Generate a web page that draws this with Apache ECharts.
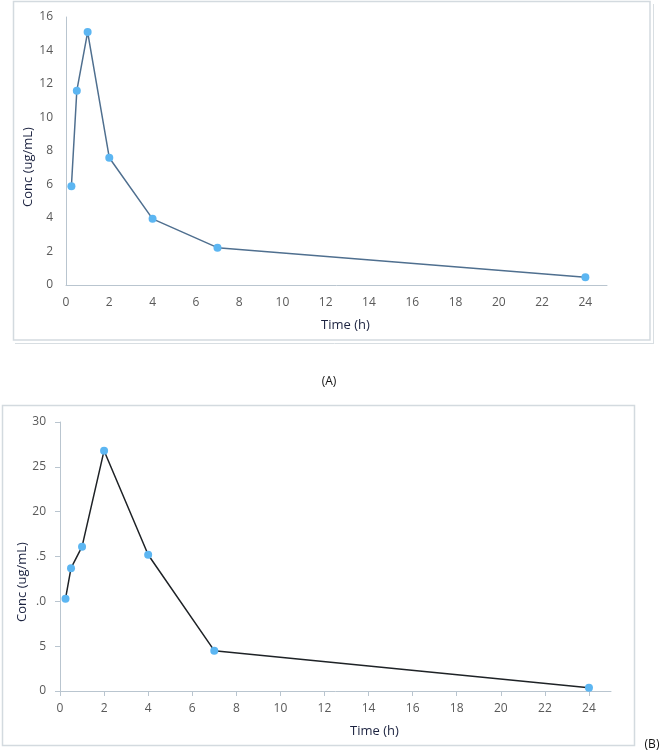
<!DOCTYPE html>
<html><head><meta charset="utf-8">
<script src="https://cdn.jsdelivr.net/npm/echarts@6/dist/echarts.min.js"></script>
<style>html,body{margin:0;padding:0;background:#fff}#c{width:661px;height:753px}</style>
</head><body><div id="c"></div>
<script>
// Data
const timesA = [0.25, 0.5, 1, 2, 4, 7, 24];
const concA  = [5.9, 11.6, 15.1, 7.6, 3.95, 2.23, 0.47];
const timesB = [0.25, 0.5, 1, 2, 4, 7, 24];
const concB  = [10.3, 13.7, 16.1, 26.8, 15.2, 4.5, 0.35];
const xTicks = [0, 2, 4, 6, 8, 10, 12, 14, 16, 18, 20, 22, 24];
const yTicksA = [0, 2, 4, 6, 8, 10, 12, 14, 16];
const yTicksB = [0, 5, 10, 15, 20, 25, 30];
const yLabelsB = ['0', '5', '.0', '.5', '20', '25', '30'];

const font = 'Open Sans';
const axisCol = '#b9c5cf';
const labCol = '#595959';
const titleCol = '#1c2340';

const chart = echarts.init(document.getElementById('c'), null, {renderer: 'canvas'});
chart.setOption({
  animation: false,
  grid: [
    {left: 66, top: 17, width: 541, height: 268},
    {left: 60, top: 422, width: 551, height: 269}
  ],
  xAxis: [
    {gridIndex: 0, type: 'value', min: 0, max: 25,
     axisLine: {lineStyle: {color: axisCol, width: 1}},
     axisTick: {show: false},
     splitLine: {show: false},
     axisLabel: {customValues: xTicks, color: labCol, fontFamily: font, fontSize: 12, margin: 12}},
    {gridIndex: 1, type: 'value', min: 0, max: 25,
     axisLine: {lineStyle: {color: axisCol, width: 1}},
     axisTick: {show: true, customValues: xTicks, length: 5, lineStyle: {color: axisCol}},
     splitLine: {show: false},
     axisLabel: {customValues: xTicks, color: labCol, fontFamily: font, fontSize: 12, margin: 12}}
  ],
  yAxis: [
    {gridIndex: 0, type: 'value', min: 0, max: 16, interval: 2,
     axisLine: {show: true, lineStyle: {color: axisCol, width: 1}},
     axisTick: {show: false},
     splitLine: {show: false},
     axisLabel: {color: labCol, fontFamily: font, fontSize: 12, margin: 13}},
    {gridIndex: 1, type: 'value', min: 0, max: 30, interval: 5,
     axisLine: {show: true, lineStyle: {color: axisCol, width: 1}},
     axisTick: {show: true, length: 5, lineStyle: {color: axisCol}},
     splitLine: {show: false},
     axisLabel: {color: labCol, fontFamily: font, fontSize: 12, margin: 14,
       formatter: v => { const i = yTicksB.indexOf(v); return i >= 0 ? yLabelsB[i] : ''; }}}
  ],
  series: [
    {type: 'line', xAxisIndex: 0, yAxisIndex: 0,
     data: timesA.map((t, i) => [t, concA[i]]),
     lineStyle: {color: '#4f6f8f', width: 1.5},
     symbol: 'circle', symbolSize: 8,
     itemStyle: {color: '#5cb6f2'}},
    {type: 'line', xAxisIndex: 1, yAxisIndex: 1,
     data: timesB.map((t, i) => [t, concB[i]]),
     lineStyle: {color: '#1e2226', width: 1.5},
     symbol: 'circle', symbolSize: 8,
     itemStyle: {color: '#5cb6f2'}}
  ],
  graphic: [
    {type: 'rect', shape: {x: 13.5, y: 1.5, width: 636.5, height: 338.5}, style: {fill: 'none', stroke: '#d3dadf', lineWidth: 1.5}, z: -1},
    {type: 'line', shape: {x1: 15, y1: 343.5, x2: 654, y2: 343.5}, style: {stroke: '#d8dee2', lineWidth: 1}},
    {type: 'line', shape: {x1: 653.5, y1: 4, x2: 653.5, y2: 344}, style: {stroke: '#d8dee2', lineWidth: 1}},
    {type: 'rect', shape: {x: 2.5, y: 405.5, width: 632, height: 340}, style: {fill: 'none', stroke: '#d3dadf', lineWidth: 1.5}, z: -1},
    {type: 'text', x: 28, y: 167, rotation: Math.PI / 2,
     style: {text: 'Conc (ug/mL)', fill: titleCol, font: '13px "' + font + '"', align: 'center', verticalAlign: 'middle'}},
    {type: 'text', x: 345.5, y: 325,
     style: {text: 'Time (h)', fill: titleCol, font: '13px "' + font + '"', align: 'center', verticalAlign: 'middle'}},
    {type: 'text', x: 22.5, y: 582, rotation: Math.PI / 2,
     style: {text: 'Conc (ug/mL)', fill: titleCol, font: '13px "' + font + '"', align: 'center', verticalAlign: 'middle'}},
    {type: 'text', x: 374.5, y: 731,
     style: {text: 'Time (h)', fill: titleCol, font: '13px "' + font + '"', align: 'center', verticalAlign: 'middle'}},
    {type: 'text', x: 329, y: 382,
     style: {text: '(A)', fill: '#111', font: '12px "' + font + '"', align: 'center', verticalAlign: 'middle'}},
    {type: 'text', x: 652, y: 745,
     style: {text: '(B)', fill: '#111', font: '12px "' + font + '"', align: 'center', verticalAlign: 'middle'}}
  ]
});
</script>
</body></html>
